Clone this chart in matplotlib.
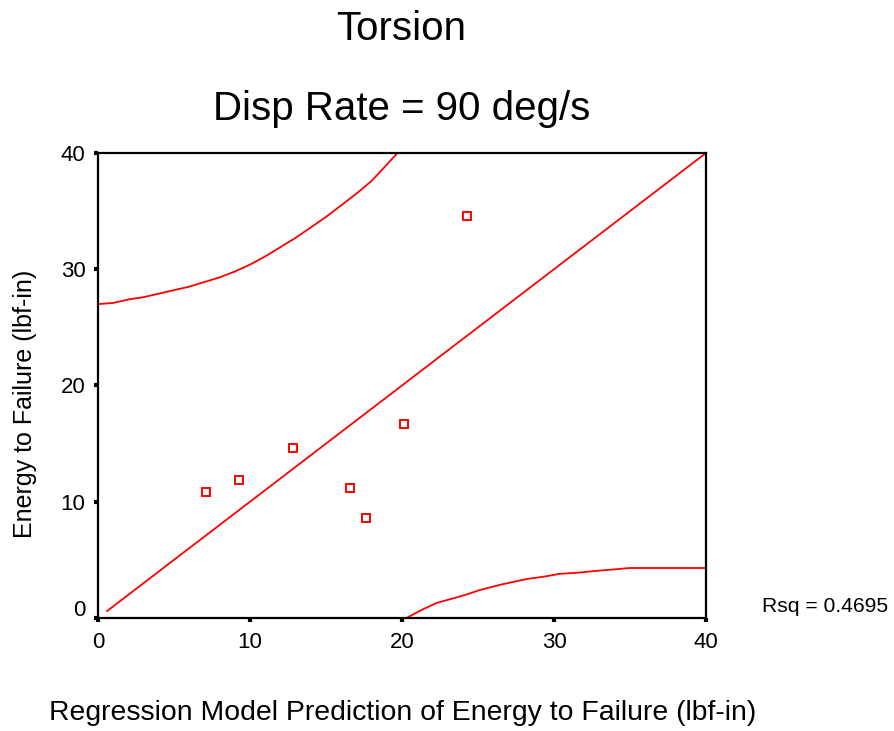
import matplotlib
matplotlib.use("Agg")
import matplotlib.pyplot as plt
import matplotlib.transforms as mtransforms

plt.rcParams['font.family'] = ['Liberation Sans', 'DejaVu Sans']

# observed points
pred = [7.1, 9.3, 12.8, 16.6, 17.6, 20.1, 24.3]
energy = [10.8, 11.9, 14.6, 11.2, 8.6, 16.7, 34.6]

# fit line (y = x)
fit_x = [0.6, 40]
fit_y = [0.6, 40]

# upper prediction band
upper_x = [0, 1, 2, 3, 4, 5, 6, 7, 8, 9, 10, 11, 12, 13, 14, 15, 16, 17, 18, 19, 19.7]
upper_y = [27.0, 27.1, 27.4, 27.6, 27.9, 28.2, 28.5, 28.9, 29.3, 29.8, 30.4, 31.1,
           31.9, 32.7, 33.6, 34.5, 35.5, 36.5, 37.6, 39.0, 40.0]

# lower prediction band
lower_x = [20.3, 21.3, 22.3, 23.4, 24.2, 25.1, 26.6, 28.2, 29.3, 30.4, 31.6,
           32.8, 35.0, 40.0]
lower_y = [0.0, 0.7, 1.3, 1.7, 2.0, 2.4, 2.9, 3.35, 3.55, 3.8, 3.9, 4.05, 4.3, 4.3]

ticks = [0, 10, 20, 30, 40]
rsq = "Rsq = 0.4695"

fig = plt.figure(figsize=(8.94, 7.31), dpi=100)
ax = fig.add_axes([0.1096, 0.1546, 0.6801, 0.6361])

red = '#ff0000'
ax.plot(upper_x, upper_y, color=red, lw=1.3)
ax.plot(lower_x, lower_y, color=red, lw=1.3)
ax.plot(fit_x, fit_y, color=red, lw=1.3)
ax.plot(pred, energy, ls='none', marker='s', ms=6, mfc='white', mec=red, mew=1.4)

ax.set_xlim(0, 40)
ax.set_ylim(0, 40)
ax.set_xticks(ticks)
ax.set_yticks(ticks)
ax.tick_params(direction='out', length=3, width=3, labelsize=16)
ax.tick_params(axis='x', pad=7)
ax.tick_params(axis='y', pad=6)
for s in ax.spines.values():
    s.set_linewidth(1.6)

# y "0" label sits a bit higher, clear of the x labels
lbl0 = ax.get_yticklabels()[0]
lbl0.set_transform(lbl0.get_transform() +
                   mtransforms.ScaledTranslation(0, 0.1, fig.dpi_scale_trans))

fig.text(0.449, 0.960, "Torsion", ha='center', va='center', fontsize=29)
fig.text(0.449, 0.851, "Disp Rate = 90 deg/s", ha='center', va='center', fontsize=29)
fig.text(0.45, 0.025, "Regression Model Prediction of Energy to Failure (lbf-in)",
         ha='center', va='center', fontsize=20.4)
fig.text(0.028, 0.447, "Energy to Failure (lbf-in)", ha='center', va='center',
         rotation=90, fontsize=18)
fig.text(0.852, 0.1697, rsq, ha='left', va='center', fontsize=15.2)

fig.savefig("out.png", dpi=100)
